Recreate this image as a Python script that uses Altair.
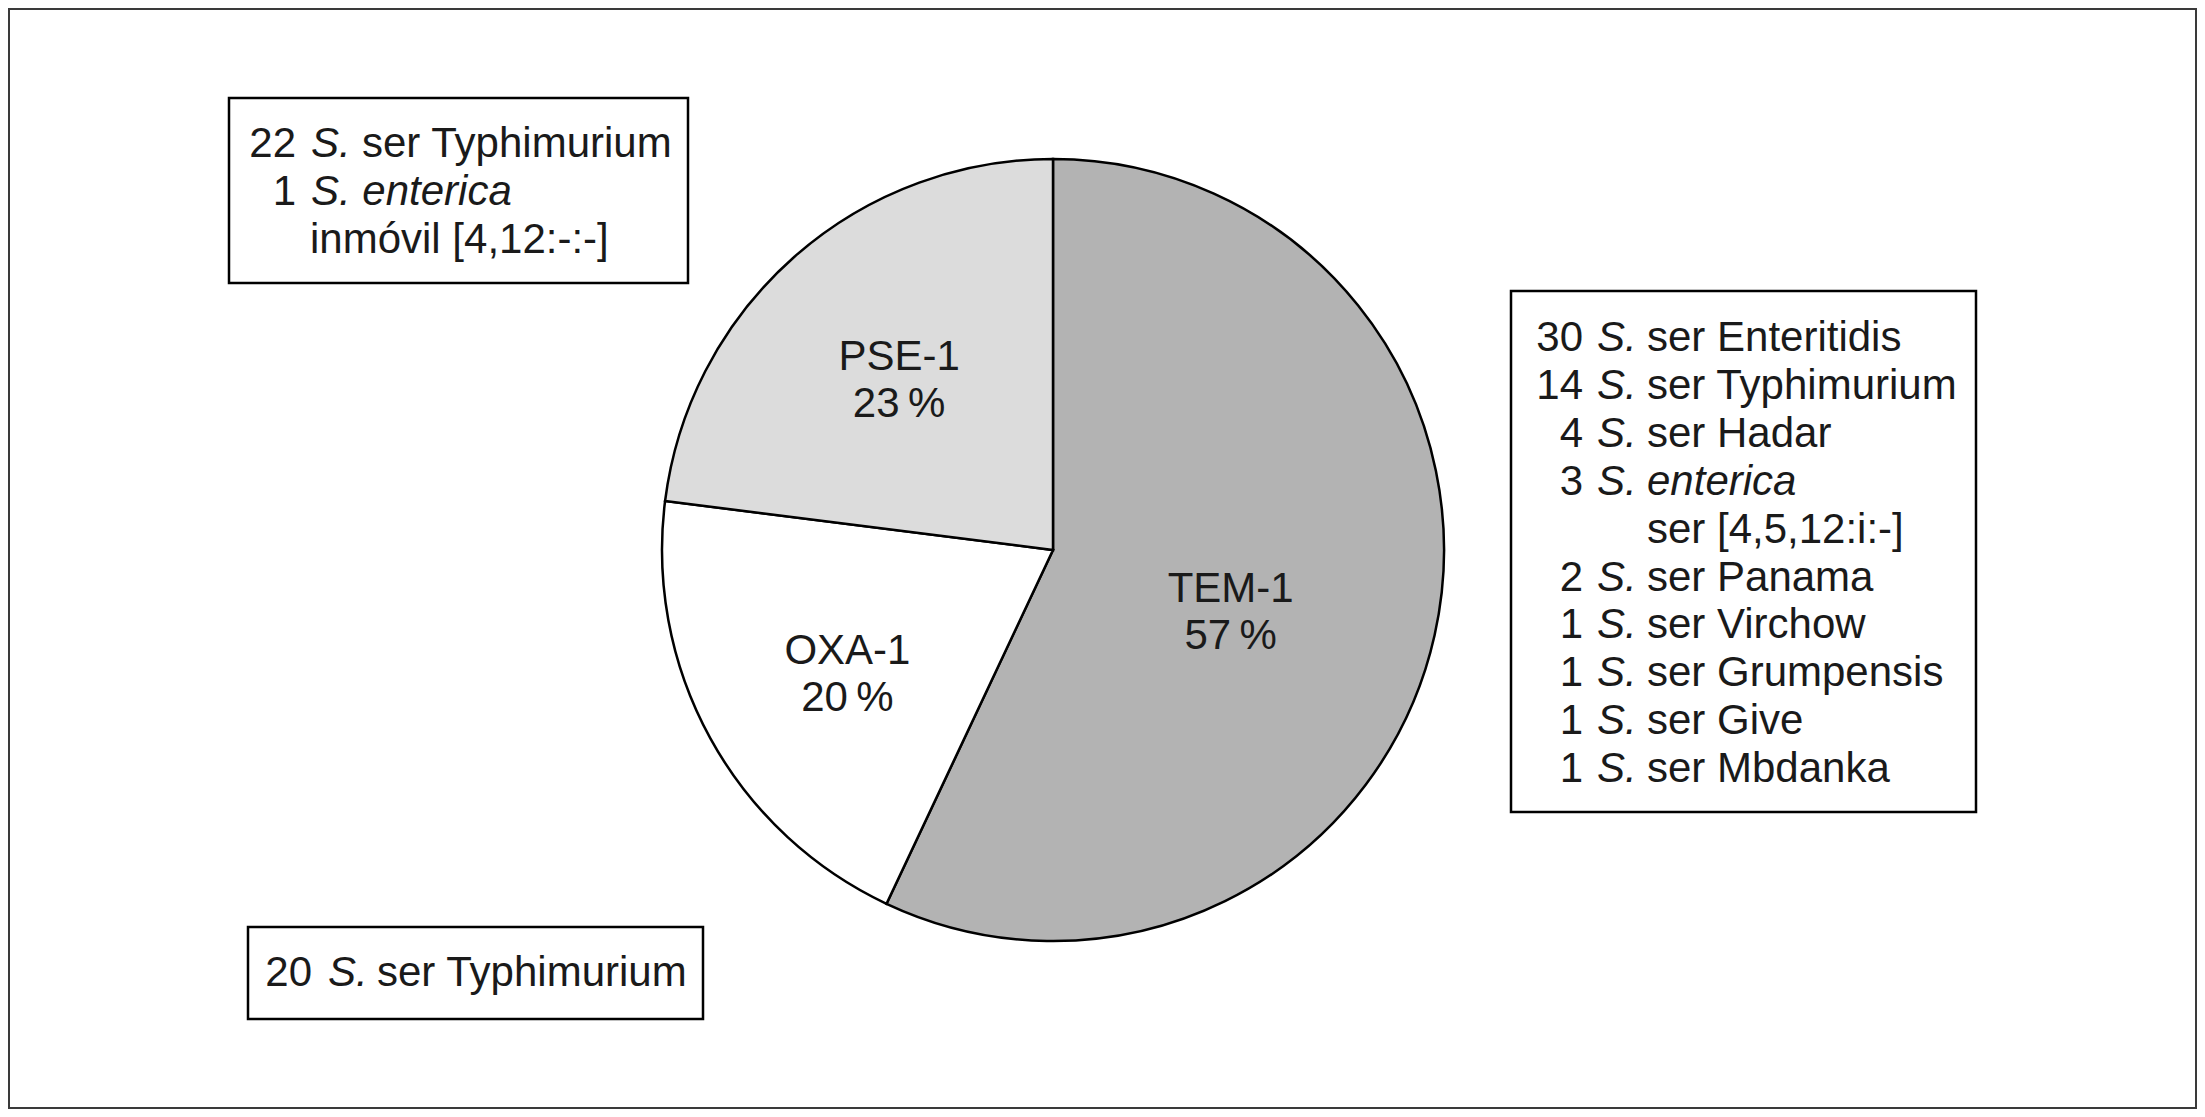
import altair as alt
import pandas as pd

# ---------------- data ----------------
enzymes = ["TEM-1", "OXA-1", "PSE-1"]
counts = [57, 20, 23]
fills = ["#b3b3b3", "#ffffff", "#dcdcdc"]

right_counts = ["30", "14", "4", "3", "", "2", "1", "1", "1", "1"]
right_genus = ["S.", "S.", "S.", "S.", "", "S.", "S.", "S.", "S.", "S."]
right_names = ["ser Enteritidis", "ser Typhimurium", "ser Hadar", "enterica",
               "ser [4,5,12:i:-]", "ser Panama", "ser Virchow", "ser Grumpensis",
               "ser Give", "ser Mbdanka"]
right_name_italic = [False, False, False, True, False, False, False, False, False, False]

topleft_counts = ["22", "1", ""]
topleft_genus = ["S.", "S. enterica", ""]
topleft_names = ["ser Typhimurium", "", "inmóvil [4,12:-:-]"]
topleft_name_italic = [False, False, False]

bottom_counts = ["20"]
bottom_genus = ["S."]
bottom_names = ["ser Typhimurium"]
bottom_name_italic = [False]

# ---------------- layout (page pixels) ----------------
OFF = 8
W, H = 2189, 1101
FONT = "Liberation Sans"
FS = 42
TXT = "#1a1a1a"
CX, CY, R = 1053 - OFF, 550 - OFF, 391
LABEL_R = {"TEM-1": 185, "OXA-1": 235, "PSE-1": 237}
LABEL_DTHETA = {"TEM-1": 1.0, "OXA-1": -0.05, "PSE-1": 0.25}  # small angular nudge (count units)

boxes_layout = [
    dict(rect=(229, 98, 688, 283), num_x=296, s_x=311, rest_x=362, cont_x=310, y0=157, dy=48,
         lines=(topleft_counts, topleft_genus, topleft_names, topleft_name_italic)),
    dict(rect=(1511, 291, 1976, 812), num_x=1583, s_x=1597, rest_x=1647, cont_x=1647, y0=351, dy=47.9,
         lines=(right_counts, right_genus, right_names, right_name_italic)),
    dict(rect=(248, 927, 703, 1019), num_x=312, s_x=328, rest_x=377, cont_x=377, y0=986, dy=48,
         lines=(bottom_counts, bottom_genus, bottom_names, bottom_name_italic)),
]

rects = []
segs = []
for b in boxes_layout:
    x, y, x2, y2 = b["rect"]
    rects.append(dict(x=x - OFF, y=y - OFF, x2=x2 - OFF, y2=y2 - OFF))
    nums, gen, names, ital = b["lines"]
    for i in range(len(nums)):
        yy = b["y0"] + i * b["dy"] - OFF
        if nums[i]:
            segs.append(dict(x=b["num_x"] - OFF, y=yy, t=nums[i], kind="num"))
        if gen[i]:
            segs.append(dict(x=b["s_x"] - OFF, y=yy, t=gen[i], kind="ital"))
        if names[i]:
            nx = (b["rest_x"] if gen[i] else b["cont_x"]) - OFF
            segs.append(dict(x=nx, y=yy, t=names[i], kind="ital" if ital[i] else "rest"))

rect_df = pd.DataFrame(rects)
seg_df = pd.DataFrame(segs)
frame_df = pd.DataFrame([dict(x=1, y=1, x2=W - 1, y2=H - 1)])

total = sum(counts)
pie_df = pd.DataFrame({"enzyme": enzymes, "count": counts, "order": list(range(len(enzymes)))})
pie_df["label"] = [f"{e}\n{round(c * 100 / total)}\u2009%" for e, c in zip(enzymes, counts)]
pie_df["lr"] = [LABEL_R[e] for e in enzymes]
cum = pie_df["count"].cumsum()
pie_df["mid"] = cum - pie_df["count"] / 2 + pie_df["enzyme"].map(LABEL_DTHETA)

# ---------------- marks ----------------
frame = alt.Chart(frame_df).mark_rect(fill="white", stroke="#3a3a3a", strokeWidth=2).encode(
    x=alt.X("x:Q", scale=None), x2="x2:Q", y=alt.Y("y:Q", scale=None), y2="y2:Q")

arcs = alt.Chart(pie_df).mark_arc(radius=R, stroke="black", strokeWidth=2.5).encode(
    theta=alt.Theta("count:Q", stack=True),
    order=alt.Order("order:Q"),
    color=alt.Color("enzyme:N", scale=alt.Scale(domain=enzymes, range=fills), legend=None),
    x=alt.value(CX), y=alt.value(CY))

labels = alt.Chart(pie_df).mark_text(
    font=FONT, fontSize=FS, lineBreak="\n", lineHeight=47, baseline="alphabetic",
    align="center", color=TXT).encode(
    theta=alt.Theta("mid:Q", stack=None, scale=alt.Scale(domain=[0, total])),
    radius=alt.Radius("lr:Q", scale=None),
    text="label:N",
    x=alt.value(CX), y=alt.value(CY))

boxes = alt.Chart(rect_df).mark_rect(fill="white", stroke="black", strokeWidth=2.5).encode(
    x=alt.X("x:Q", scale=None), x2="x2:Q", y=alt.Y("y:Q", scale=None), y2="y2:Q")


def seg_layer(kind, align, style):
    return alt.Chart(seg_df).transform_filter(alt.datum.kind == kind).mark_text(
        font=FONT, fontSize=FS, align=align, baseline="alphabetic", fontStyle=style, color=TXT
    ).encode(x=alt.X("x:Q", scale=None), y=alt.Y("y:Q", scale=None), text="t:N")


nums_l = seg_layer("num", "right", "normal")
ital_l = seg_layer("ital", "left", "italic")
rest_l = seg_layer("rest", "left", "normal")

chart = alt.layer(frame, arcs, labels, boxes, nums_l, ital_l, rest_l).properties(
    width=W, height=H, padding=0, autosize=alt.AutoSizeParams(type="none")
).configure_view(stroke="transparent")

chart.save("out.html", embed_options={"renderer": "svg", "actions": False})
